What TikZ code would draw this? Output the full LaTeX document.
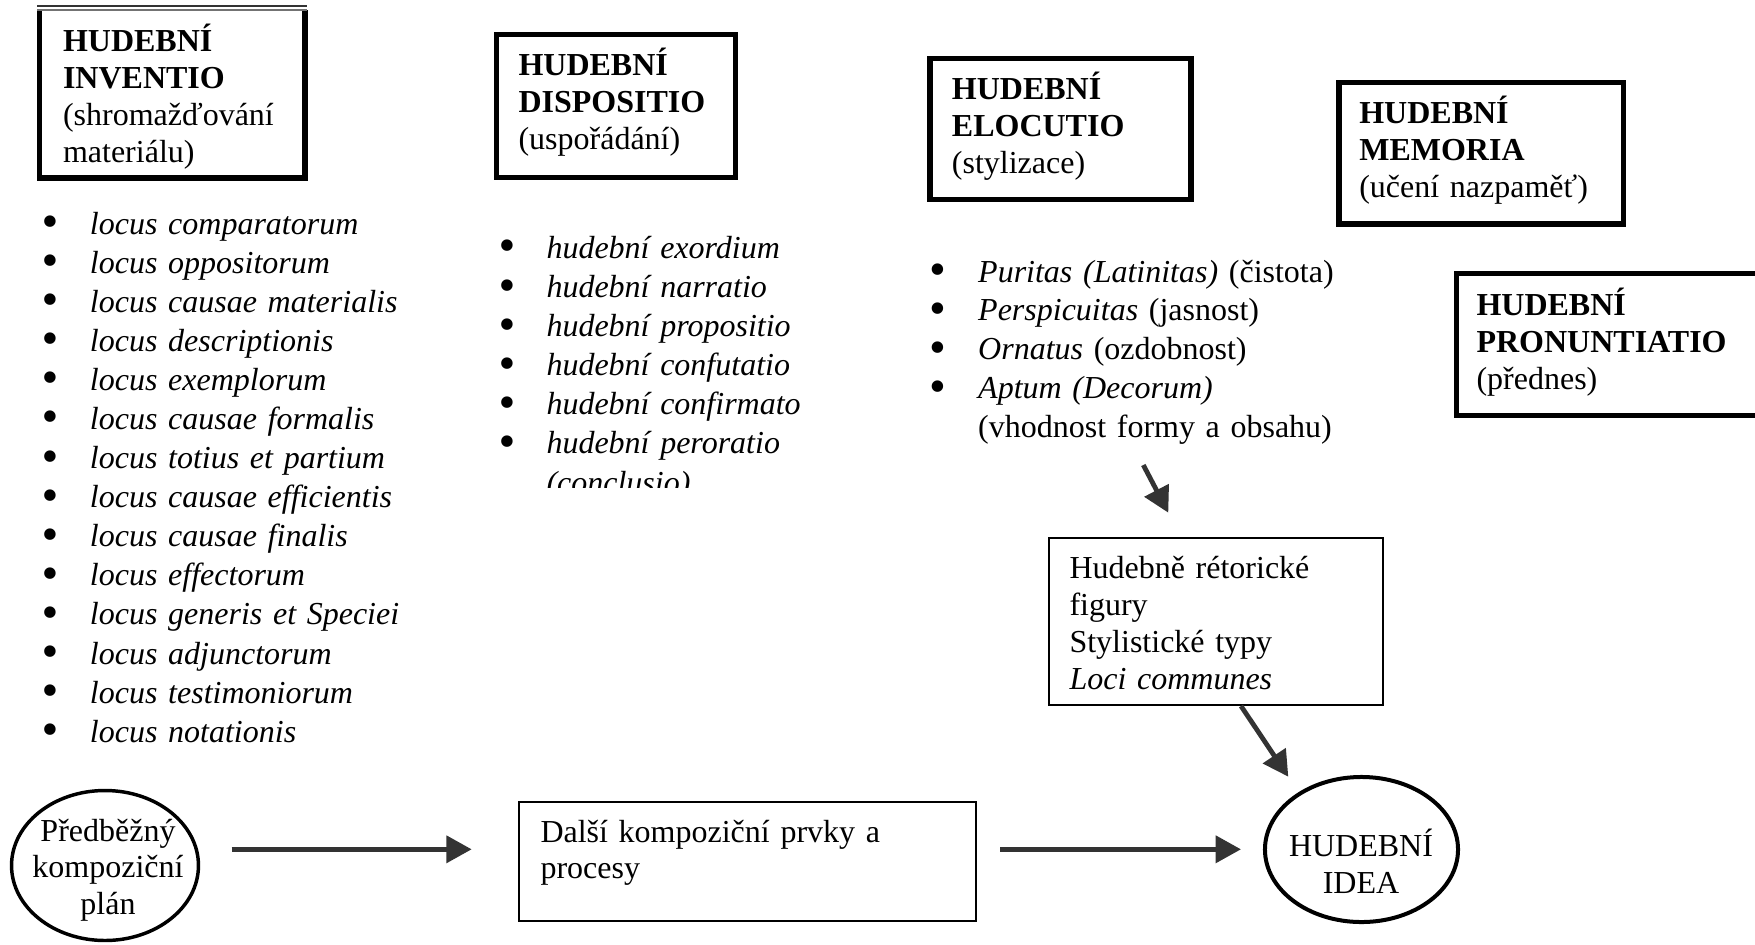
\documentclass[tikz,border=0pt]{standalone}
\usepackage{fontspec}
\setmainfont{Liberation Serif}
\usetikzlibrary{arrows.meta,shapes.geometric}
\definecolor{arrowgray}{RGB}{51,51,51}
\newcommand{\bul}{\makebox[18.1pt][l]{\raisebox{-1.3pt}{\scalebox{1.5}{•}}}}
\newcommand{\contline}{\hspace*{18.1pt}}
\begin{document}
\begin{tikzpicture}[x=0.375pt,y=-0.375pt,
  headbox/.style={draw=black,line width=2pt,inner sep=0pt,rectangle},
  openbox/.style={draw=none,inner sep=0pt,rectangle},
  plainbox/.style={draw=black,line width=0.75pt,inner sep=0pt,rectangle},
  oval/.style={draw=black,ellipse,inner sep=0pt},
  txt/.style={anchor=base west,inner sep=0pt,text width=200pt,align=left,font=\fontsize{12}{13.875}\selectfont},
  ctxt/.style={anchor=base,inner sep=0pt,text width=100pt,align=center,font=\fontsize{12}{13.6}\selectfont},
  listtxt/.style={anchor=base west,inner sep=0pt,text width=250pt,align=left,font=\fontsize{12}{14.66}\selectfont},
  arr/.style={draw=arrowgray,line width=1.8pt,-{Triangle[length=9.5pt,width=10pt]}}]
\clip (0,0) rectangle (1755,944);
\fill[white] (0,0) rectangle (1755,944);

% ---------- heading boxes ----------
\node[openbox,minimum width=99.19pt,minimum height=62.6pt] (invbox) at (172.25,94) {};
\draw[line width=2pt] (invbox.north west) -- (invbox.south west) -- (invbox.south east) -- (invbox.north east);
\draw[line width=0.7pt,black!80] ([xshift=-0.75pt,yshift=1.4pt]invbox.north west) -- ([xshift=0.75pt,yshift=1.4pt]invbox.north east);
\draw[line width=0.7pt,black!55] ([xshift=-0.75pt]invbox.north west) -- ([xshift=0.75pt]invbox.north east);
\node[txt] (invt) at (62.5,51.7) {\textbf{HUDEBNÍ}\\\textbf{INVENTIO}\\(shromažďování\\materiálu)};

\node[headbox,minimum width=89.5pt,minimum height=53.6pt] (disbox) at (616,105.85) {};
\node[txt] (dist) at (518,75.3) {\textbf{HUDEBNÍ}\\\textbf{DISPOSITIO}\\(uspořádání)};

\node[headbox,minimum width=97.9pt,minimum height=52.7pt] (elobox) at (1060.5,129) {};
\node[txt] (elot) at (951.4,99) {\textbf{HUDEBNÍ}\\\textbf{ELOCUTIO}\\(stylizace)};

\node[headbox,minimum width=106.6pt,minimum height=53pt] (membox) at (1481.15,153.35) {};
\node[txt] (memt) at (1358.8,123.4) {\textbf{HUDEBNÍ}\\\textbf{MEMORIA}\\(učení nazpaměť)};

\node[headbox,minimum width=121.2pt,minimum height=53.2pt] (probox) at (1618.35,344.35) {};
\node[txt] (prot) at (1476,315) {\textbf{HUDEBNÍ}\\\textbf{PRONUNTIATIO}\\(přednes)};

% ---------- lists ----------
\node[listtxt] (invlist) at (41.2,234) {\itshape
\bul locus comparatorum\\
\bul locus oppositorum\\
\bul locus causae materialis\\
\bul locus descriptionis\\
\bul locus exemplorum\\
\bul locus causae formalis\\
\bul locus totius et partium\\
\bul locus causae efficientis\\
\bul locus causae finalis\\
\bul locus effectorum\\
\bul locus generis et Speciei\\
\bul locus adjunctorum\\
\bul locus testimoniorum\\
\bul locus notationis};

\begin{scope}
\clip (470,200) rectangle (900,487);
\node[listtxt] (dislist) at (497.7,258.5) {\itshape
\bul hudební exordium\\
\bul hudební narratio\\
\bul hudební propositio\\
\bul hudební confutatio\\
\bul hudební confirmato\\
\bul hudební peroratio\\
\contline(conclusio)};
\end{scope}

\node[listtxt,font=\fontsize{12}{14.6}\selectfont] (elolist) at (929.4,282) {%
\bul\textit{Puritas (Latinitas)} (čistota)\\
\bul\textit{Perspicuitas} (jasnost)\\
\bul\textit{Ornatus} (ozdobnost)\\
\bul\textit{Aptum (Decorum)}\\
\contline(vhodnost formy a obsahu)};

% ---------- lower part ----------
\node[plainbox,minimum width=125.25pt,minimum height=62.6pt] (figbox) at (1216,621.5) {};
\node[txt] (figt) at (1069,578) {Hudebně rétorické\\figury\\Stylistické typy\\\textit{Loci communes}};

\node[plainbox,minimum width=171.2pt,minimum height=44.6pt] (dalbox) at (747.75,861.5) {};
\node[txt,font=\fontsize{12}{13.7}\selectfont] (dalt) at (540,842) {Další kompoziční prvky a\\procesy};

\node[oval,line width=1.3pt,minimum width=70.1pt,minimum height=56.25pt] (pred) at (105,865.5) {};
\node[ctxt] (predt) at (108,841.7) {Předběžný\\kompoziční\\plán};

\node[oval,line width=1.5pt,minimum width=72.4pt,minimum height=54.4pt] (idea) at (1361.5,849.5) {};
\node[ctxt,font=\fontsize{12}{13.7}\selectfont] (ideat) at (1361,856.7) {HUDEBNÍ\\IDEA};

% ---------- connectors ----------
\coordinate (a1s) at (231.7,849.3);
\coordinate (a1e) at (471.7,849.3);
\coordinate (a2s) at (1000,849.3);
\coordinate (a2e) at (1241,849.3);
\coordinate (a3s) at (1143.3,465);
\coordinate (a3e) at (1168.3,512.7);
\coordinate (a4s) at (1241,706);
\coordinate (a4e) at (1288.3,776.7);
\draw[arr] (a1s) -- (a1e);
\draw[arr] (a2s) -- (a2e);
\draw[arr] (a3s) -- (a3e);
\draw[arr] (a4s) -- (a4e);
\end{tikzpicture}
\end{document}
